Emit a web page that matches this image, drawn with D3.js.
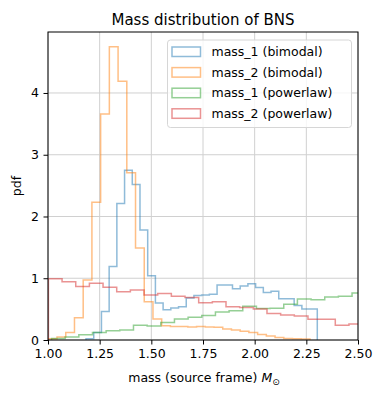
<!DOCTYPE html>
<html>
<head>
<meta charset="utf-8">
<script src="https://cdn.jsdelivr.net/npm/d3@7"></script>
<style>
  html, body { margin: 0; padding: 0; background: #fff; }
  svg { display: block; font-family: "DejaVu Sans", sans-serif; }
</style>
</head>
<body>
<svg id="chart" width="383" height="396"></svg>
<script>
// ---- data ----
const seriesLabels = ["mass_1 (bimodal)", "mass_2 (bimodal)", "mass_1 (powerlaw)", "mass_2 (powerlaw)"];
const seriesColors = ["#1f77b4", "#ff7f0e", "#2ca02c", "#d62728"];

// histogram bin starts and widths (solar masses)
const binStart = [1.184, 1.0015, 1.017, 1.002];
const binWidth = [0.0373, 0.0422, 0.0661, 0.0661];

const mass1Bimodal = [0.02, 0.12, 0.46, 1.19, 2.21, 2.75, 2.52, 1.78, 1.04, 0.6,
  0.49, 0.52, 0.54, 0.68, 0.72, 0.73, 0.74, 0.89, 0.89, 0.83,
  0.875, 0.91, 0.85, 0.77, 0.79, 0.67, 0.67, 0.56, 0.5, 0.5];
const mass2Bimodal = [0.02, 0.05, 0.12, 0.36, 0.97, 2.23, 3.66, 4.75, 4.19, 2.71,
  1.49, 0.62, 0.34, 0.23, 0.22, 0.22, 0.21, 0.22, 0.21, 0.205,
  0.18, 0.16, 0.14, 0.12, 0.09, 0.065, 0.04, 0.025, 0.02, 0.015];
const mass1Powerlaw = [0.025, 0.05, 0.085, 0.12, 0.15, 0.16, 0.24, 0.225, 0.285, 0.34,
  0.37, 0.395, 0.455, 0.475, 0.545, 0.51, 0.515, 0.58, 0.665, 0.65,
  0.695, 0.71, 0.76];
const mass2Powerlaw = [0.99, 0.945, 0.865, 0.92, 0.855, 0.78, 0.81, 0.73, 0.755, 0.71,
  0.69, 0.605, 0.62, 0.54, 0.525, 0.5, 0.43, 0.405, 0.39, 0.335,
  0.335, 0.24, 0.26];

const xTicks = [1.0, 1.25, 1.5, 1.75, 2.0, 2.25, 2.5];
const yTicks = [0, 1, 2, 3, 4];
const xDomain = [1.0, 2.5];

// ---- layout ----
const svg = d3.select("#chart");
const L = 48, R = 358, T = 32, B = 340;
const allValues = [mass1Bimodal, mass2Bimodal, mass1Powerlaw, mass2Powerlaw];
const yMax = d3.max(allValues.flat()) * 1.05;

const x = d3.scaleLinear().domain(xDomain).range([L, R]);
const y = d3.scaleLinear().domain([0, yMax]).range([B, T]);

svg.append("defs").append("clipPath").attr("id", "clip")
  .append("rect").attr("x", L).attr("y", T).attr("width", R - L).attr("height", B - T);

// grid
const grid = svg.append("g");
grid.selectAll("line.gx").data(xTicks).join("line")
  .attr("x1", d => x(d)).attr("x2", d => x(d)).attr("y1", T).attr("y2", B)
  .attr("stroke", "#d0d0d0").attr("stroke-width", 1);
grid.selectAll("line.gy").data(yTicks).join("line")
  .attr("y1", d => y(d)).attr("y2", d => y(d)).attr("x1", L).attr("x2", R)
  .attr("stroke", "#d0d0d0").attr("stroke-width", 1);

// histograms
function stepPoints(start, width, vals) {
  const pts = [[start, 0]];
  vals.forEach((v, i) => {
    pts.push([start + i * width, v]);
    pts.push([start + (i + 1) * width, v]);
  });
  pts.push([start + vals.length * width, 0]);
  return pts;
}
const line = d3.line().x(d => x(d[0])).y(d => y(d[1]));
const hg = svg.append("g").attr("clip-path", "url(#clip)");
allValues.forEach((vals, i) => {
  hg.append("path")
    .attr("d", line(stepPoints(binStart[i], binWidth[i], vals)))
    .attr("fill", "none")
    .attr("stroke", seriesColors[i])
    .attr("stroke-opacity", 0.5)
    .attr("stroke-width", 1.5)
    .attr("stroke-linejoin", "miter");
});

// axes
const xAxis = svg.append("g").attr("transform", `translate(0,${B})`)
  .call(d3.axisBottom(x).tickValues(xTicks).tickFormat(d3.format(".2f")).tickSize(4.5).tickPadding(4.5));
const yAxis = svg.append("g").attr("transform", `translate(${L},0)`)
  .call(d3.axisLeft(y).tickValues(yTicks).tickFormat(d3.format("d")).tickSize(4.5).tickPadding(4.5));
[xAxis, yAxis].forEach(a => {
  a.select(".domain").remove();
  a.selectAll("text").attr("font-family", "DejaVu Sans").attr("font-size", 12.5).attr("fill", "#000");
  a.selectAll("line").attr("stroke", "#000").attr("stroke-width", 1);
});

// frame
svg.append("rect").attr("x", L).attr("y", T).attr("width", R - L).attr("height", B - T)
  .attr("fill", "none").attr("stroke", "#000").attr("stroke-width", 1);

// title & labels
svg.append("text").attr("x", (L + R) / 2).attr("y", 25).attr("text-anchor", "middle")
  .attr("font-size", 15).text("Mass distribution of BNS");

const xl = svg.append("text").attr("x", (L + R) / 2 + 1).attr("y", 382).attr("text-anchor", "middle")
  .attr("font-size", 12.5);
xl.append("tspan").text("mass (source frame) ");
xl.append("tspan").attr("font-style", "italic").text("M");
xl.append("tspan").attr("font-size", 9).attr("dy", 2.5).text("\u2299");

svg.append("text").attr("transform", `translate(21,${(T + B) / 2}) rotate(-90)`)
  .attr("text-anchor", "middle").attr("font-size", 12.5).text("pdf");

// legend
const lg = svg.append("g");
lg.append("rect").attr("x", 167.5).attr("y", 40).attr("width", 184).attr("height", 87.5)
  .attr("rx", 3).attr("fill", "#fff").attr("fill-opacity", 0.8)
  .attr("stroke", "#d6d6d6").attr("stroke-width", 1);
seriesLabels.forEach((lab, i) => {
  const cy = 51.5 + i * 20.6;
  lg.append("rect").attr("x", 172).attr("y", cy - 4.5).attr("width", 28.5).attr("height", 9.5)
    .attr("fill", "none").attr("stroke", seriesColors[i]).attr("stroke-opacity", 0.5).attr("stroke-width", 1.5);
  lg.append("text").attr("x", 211.5).attr("y", cy + 4.5).attr("font-size", 12.5).text(lab);
});
</script>
</body>
</html>
